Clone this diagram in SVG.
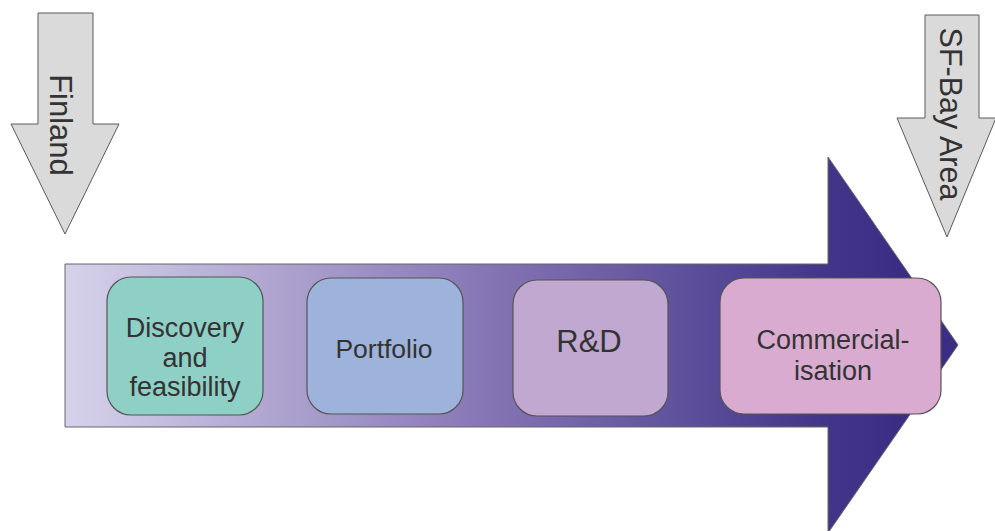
<svg xmlns="http://www.w3.org/2000/svg" width="995" height="531" viewBox="0 0 995 531">
  <defs>
    <linearGradient id="flow" gradientUnits="userSpaceOnUse" x1="65" y1="0" x2="900" y2="0">
      <stop offset="0" stop-color="#d6d2ea"/>
      <stop offset="0.5" stop-color="#8776b5"/>
      <stop offset="0.9" stop-color="#43378a"/>
      <stop offset="1" stop-color="#3b2d84"/>
    </linearGradient>
    <style>
      .loc { fill: #dadada; stroke: #5a5a5a; stroke-width: 1; }
      .box { stroke: #555; stroke-width: 1.2; }
      .t { font-family: "Liberation Sans", Arial, sans-serif; fill: #333; text-anchor: middle; }
    </style>
  </defs>
  <rect width="995" height="531" fill="#fff"/>
  <g id="main-arrow">
    <path d="M65,264 H828 V157 L958,345 L828,533 V427 H65 Z" fill="url(#flow)" stroke="#666" stroke-width="1"/>
  </g>
  <g id="finland">
    <path class="loc" d="M38,13 H93 V124 H119 L65,234 L11,124 H38 Z"/>
    <text class="t" font-size="31" transform="translate(50,125) rotate(90)">Finland</text>
  </g>
  <g id="sf-bay">
    <path class="loc" d="M925,15 H979 V118 H996 L947,237 L897,118 H925 Z"/>
    <text class="t" font-size="30.5" transform="translate(940,114) rotate(90)">SF-Bay Area</text>
  </g>
  <g id="discovery">
    <rect class="box" x="107" y="277" width="156" height="138" rx="24" fill="#8ecfc6"/>
    <text class="t" font-size="27" x="185" y="337">Discovery</text>
    <text class="t" font-size="27" x="185" y="367">and</text>
    <text class="t" font-size="27" x="185" y="396">feasibility</text>
  </g>
  <g id="portfolio">
    <rect class="box" x="307" y="278" width="156" height="136" rx="24" fill="#9db3dc"/>
    <text class="t" font-size="26.5" x="384" y="358">Portfolio</text>
  </g>
  <g id="rnd">
    <rect class="box" x="513" y="280" width="155" height="136" rx="24" fill="#c0a8d0"/>
    <text class="t" font-size="31" x="589" y="352">R&amp;D</text>
  </g>
  <g id="commercialisation">
    <rect class="box" x="720" y="278" width="221" height="136" rx="24" fill="#d9abd0"/>
    <text class="t" font-size="27" x="833" y="349">Commercial-</text>
    <text class="t" font-size="27" x="833" y="380">isation</text>
  </g>
  <g id="connectors"/>
</svg>
